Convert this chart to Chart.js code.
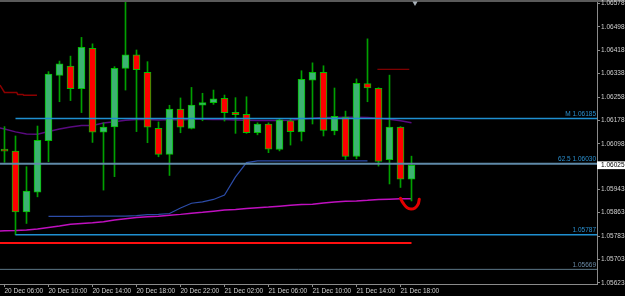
<!DOCTYPE html>
<html><head><meta charset="utf-8">
<script src="https://cdn.jsdelivr.net/npm/chart.js@4.4.0/dist/chart.umd.min.js"></script>
<style>html,body{margin:0;padding:0;background:#000;overflow:hidden}</style>
</head><body>
<canvas id="c" width="625" height="296"></canvas>
<script>
const times = ["20 Dec 06:00","20 Dec 07:00","20 Dec 08:00","20 Dec 09:00","20 Dec 10:00","20 Dec 11:00","20 Dec 12:00","20 Dec 13:00","20 Dec 14:00","20 Dec 15:00","20 Dec 16:00","20 Dec 17:00","20 Dec 18:00","20 Dec 19:00","20 Dec 20:00","20 Dec 21:00","20 Dec 22:00","20 Dec 23:00","21 Dec 00:00","21 Dec 01:00","21 Dec 02:00","21 Dec 03:00","21 Dec 04:00","21 Dec 05:00","21 Dec 06:00","21 Dec 07:00","21 Dec 08:00","21 Dec 09:00","21 Dec 10:00","21 Dec 11:00","21 Dec 12:00","21 Dec 13:00","21 Dec 14:00","21 Dec 15:00","21 Dec 16:00","21 Dec 17:00","21 Dec 18:00","21 Dec 19:00"];
const opens  = [1.06080,1.06073,1.05865,1.05933,1.06109,1.06332,1.06364,1.06287,1.06425,1.06138,1.06156,1.06356,1.06402,1.06343,1.06151,1.06062,1.06217,1.06151,1.06230,1.06239,1.06254,1.06206,1.06199,1.06136,1.06166,1.06079,1.06177,1.06139,1.06316,1.06343,1.06142,1.06190,1.06055,1.06304,1.06288,1.06044,1.06155,1.05977];
const highs  = [1.06157,1.06125,1.06020,1.06159,1.06345,1.06381,1.06398,1.06462,1.06440,1.06170,1.06362,1.06590,1.06419,1.06379,1.06173,1.06230,1.06255,1.06291,1.06271,1.06282,1.06265,1.06256,1.06259,1.06170,1.06170,1.06182,1.06185,1.06348,1.06375,1.06365,1.06289,1.06210,1.06320,1.06457,1.06290,1.06333,1.06157,1.06056];
const lows   = [1.06035,1.05787,1.05826,1.05917,1.06037,1.06242,1.06246,1.06205,1.06103,1.05940,1.05986,1.06282,1.06140,1.06102,1.06054,1.05990,1.06136,1.06149,1.06177,1.06233,1.06176,1.06134,1.06134,1.06129,1.06068,1.06074,1.06094,1.06108,1.06166,1.06125,1.06129,1.06045,1.06047,1.06242,1.06022,1.05961,1.05949,1.05903];
const closes = [1.06073,1.05865,1.05937,1.06110,1.06337,1.06372,1.06287,1.06428,1.06138,1.06155,1.06356,1.06402,1.06352,1.06155,1.06062,1.06217,1.06155,1.06231,1.06239,1.06252,1.06205,1.06198,1.06136,1.06166,1.06080,1.06180,1.06140,1.06319,1.06343,1.06144,1.06192,1.06055,1.06305,1.06289,1.06038,1.06155,1.05977,1.06025];
// moving averages: first value belongs to the previous (off-screen) bar 20 Dec 05:00
const maPurple  = [1.06157,1.06149,1.06139,1.06132,1.06131,1.06140,1.06149,1.06156,1.06161,1.06161,1.06169,1.06174,1.06179,1.06181,1.06181,1.06180,1.06181,1.06180,1.06182,1.06182,1.06181,1.06181,1.06180,1.06179,1.06178,1.06178,1.06178,1.06179,1.06183,1.06186,1.06188,1.06188,1.06189,1.06189,1.06188,1.06186,1.06182,1.06177,1.06170];
const maMagenta = [1.05800,1.05801,1.05802,1.05804,1.05807,1.05812,1.05817,1.05823,1.05826,1.05828,1.05832,1.05838,1.05842,1.05846,1.05849,1.05851,1.05854,1.05857,1.05861,1.05864,1.05868,1.05872,1.05874,1.05877,1.05880,1.05882,1.05885,1.05888,1.05891,1.05892,1.05896,1.05899,1.05902,1.05903,1.05905,1.05908,1.05909,1.05910,1.05910];
// navy line from bar index 4 to 33
const navyStart = 4;
const navyLine  = [1.05850,1.05850,1.05850,1.05850,1.05851,1.05851,1.05851,1.05851,1.05853,1.05856,1.05857,1.05860,1.05879,1.05895,1.05900,1.05908,1.05923,1.05985,1.06034,1.06040,1.06040,1.06040,1.06040,1.06040,1.06040,1.06040,1.06040,1.06040,1.06040,1.06040];
// dark red stepped line at top-left: [bar index, price]
const darkRedStepX = [-0.41,0,1.11,1.2,1.68,1.75,2.95];
const darkRedStepY = [1.06299,1.06274,1.06274,1.06267,1.06267,1.06264,1.06264];
// horizontal levels
const levelValues = [1.06185, 1.06030, 1.05787, 1.05669];
const levelTexts  = ["M 1.06185", "62.5 1.06030", "1.05787", "1.05669"];
const levelStartBar = [1, null, 1, null];
const redLevel = 1.05759, redLevelEndBar = 37;
const shortRedLevel = 1.06353, shortRedFrom = 33.9, shortRedTo = 36.8;
// hand drawn red hook: [bar index, price]
const hookX = [36.0,36.23,36.59,36.95,37.32,37.59,37.71];
const hookY = [1.05912,1.05896,1.05880,1.05875,1.05879,1.05891,1.05909];
const currentPrice = 1.06025;
const xTickLabels = ["20 Dec 06:00","20 Dec 10:00","20 Dec 14:00","20 Dec 18:00","20 Dec 22:00","21 Dec 02:00","21 Dec 06:00","21 Dec 10:00","21 Dec 14:00","21 Dec 18:00"];
const yTickValues = [1.06578,1.06498,1.06418,1.06338,1.06258,1.06178,1.06098,1.05943,1.05863,1.05783,1.05703,1.05623];
const shiftMarker = {bar: 37.32, price: 1.06580};

const X_MIN = -0.40909, X_MAX = 53.864;
const Y_MIN = 1.05619, Y_MAX = 1.06583;
const FONT = {family: 'Liberation Sans', size: 6.5};
const idx = times.map((_, i) => i);

const datasets = [];
levelValues.forEach((v, k) => {
  const colors = ['#1f8fd0', '#5f8aa8', '#1f8fd0', '#5c7788'];
  const tcolors = ['#2a90d0', '#2a90d0', '#2a90d0', '#6a8aa6'];
  const widths = [1.5, 2, 1.5, 1];
  const x0 = levelStartBar[k] === null ? X_MIN : levelStartBar[k];
  datasets.push({type: 'line', data: [{x: x0, y: v}, {x: X_MAX, y: v}], borderColor: colors[k], borderWidth: widths[k],
    pointRadius: 0, order: 0, levelText: levelTexts[k], levelTextColor: tcolors[k]});
});
datasets.push({type: 'line', data: [{x: X_MIN, y: redLevel}, {x: redLevelEndBar, y: redLevel}], borderColor: '#ff1010', borderWidth: 2, pointRadius: 0, order: 0});
datasets.push({type: 'line', data: [{x: shortRedFrom, y: shortRedLevel}, {x: shortRedTo, y: shortRedLevel}], borderColor: '#a00000', borderWidth: 1, pointRadius: 0, order: 0});
datasets.push({type: 'line', data: hookX.map((x, k) => ({x, y: hookY[k]})), borderColor: '#e40000', borderWidth: 3, tension: 0.4, borderCapStyle: 'round', pointRadius: 0, order: 0});
datasets.push({type: 'line', data: [{x: shiftMarker.bar, y: shiftMarker.price}], showLine: false, pointStyle: 'triangle', rotation: 180, pointRadius: 3, pointBackgroundColor: '#a8b0b8', pointBorderWidth: 0, clip: false, order: 0});
datasets.push({type: 'bar', data: idx.map(i => ({x: i, y: [opens[i], closes[i]]})), barThickness: 7, grouped: false,
  backgroundColor: ctx => closes[ctx.dataIndex] >= opens[ctx.dataIndex] ? '#3cb371' : '#ff0000',
  borderColor: '#00c000', borderWidth: 1, borderSkipped: false, order: 1});
datasets.push({type: 'bar', data: idx.map(i => ({x: i, y: [lows[i], highs[i]]})), barThickness: 1, grouped: false,
  backgroundColor: '#00a000', borderWidth: 0, order: 2});
datasets.push({type: 'line', data: maPurple.map((v, k) => ({x: k - 1, y: v})), borderColor: '#5a0a80', borderWidth: 1.5, pointRadius: 0, order: 3});
datasets.push({type: 'line', data: maMagenta.map((v, k) => ({x: k - 1, y: v})), borderColor: '#c010c0', borderWidth: 1.5, pointRadius: 0, order: 3});
datasets.push({type: 'line', data: navyLine.map((v, k) => ({x: k + navyStart, y: v})), borderColor: '#2c4ca8', borderWidth: 1.2, pointRadius: 0, order: 3});
datasets.push({type: 'line', data: darkRedStepX.map((x, k) => ({x, y: darkRedStepY[k]})), borderColor: '#8c0000', borderWidth: 1.5, pointRadius: 0, order: 3});

const bgPlugin = {
  id: 'bg',
  beforeDraw(chart) {
    const c = chart.ctx;
    c.save(); c.fillStyle = '#000'; c.fillRect(0, 0, chart.width, chart.height);
    c.fillStyle = '#5a5a5a'; c.fillRect(0, 0, chart.width, 2); c.restore();
  }
};
const levelLabelPlugin = {
  id: 'levelLabels',
  afterDatasetsDraw(chart) {
    const {ctx, chartArea} = chart;
    const y = chart.scales.y;
    ctx.save(); ctx.font = '6.5px "Liberation Sans"'; ctx.textAlign = 'right'; ctx.textBaseline = 'bottom';
    chart.data.datasets.forEach(ds => {
      if (!ds.levelText) return;
      ctx.fillStyle = ds.levelTextColor;
      ctx.fillText(ds.levelText, chartArea.right - 1, y.getPixelForValue(ds.data[0].y) - 1);
    });
    ctx.restore();
  }
};

new Chart(document.getElementById('c'), {
  type: 'bar',
  data: {datasets},
  plugins: [bgPlugin, levelLabelPlugin],
  options: {
    responsive: false, animation: false, devicePixelRatio: 1,
    layout: {autoPadding: false, padding: {top: 2, left: 0, right: 0, bottom: 0}},
    plugins: {legend: {display: false}, tooltip: {enabled: false}},
    scales: {
      x: {
        type: 'linear', min: X_MIN, max: X_MAX, offset: false,
        grid: {drawOnChartArea: false, drawTicks: true, tickLength: 3, color: '#8a8a8a', offset: false},
        border: {display: true, color: '#8a8a8a'},
        afterBuildTicks: s => { s.ticks = xTickLabels.map(l => ({value: times.indexOf(l)})); },
        afterFit: s => { s.height = 12; s.paddingLeft = 0; s.paddingRight = 0; },
        ticks: {autoSkip: false, maxRotation: 0, minRotation: 0, align: 'start', padding: 0, color: '#d0d0d0', font: FONT,
          callback: (v, k) => xTickLabels[k]}
      },
      y: {
        type: 'linear', position: 'right', min: Y_MIN, max: Y_MAX,
        grid: {drawOnChartArea: false, drawTicks: true, tickLength: 3, color: '#8a8a8a'},
        border: {display: true, color: '#8a8a8a'},
        afterBuildTicks: s => { s.ticks = yTickValues.concat([currentPrice]).map(v => ({value: v})); },
        afterFit: s => { s.width = 28; s.paddingTop = 0; s.paddingBottom = 0; },
        ticks: {autoSkip: false, padding: 1, font: FONT,
          color: ctx => (ctx.tick && ctx.tick.value === currentPrice) ? '#000' : '#d0d0d0',
          showLabelBackdrop: ctx => !!(ctx.tick && ctx.tick.value === currentPrice),
          backdropColor: '#ffffff', backdropPadding: {left: 4, right: 3, top: 0, bottom: 0},
          callback: v => v.toFixed(5)}
      }
    }
  }
});
</script>
</body></html>
